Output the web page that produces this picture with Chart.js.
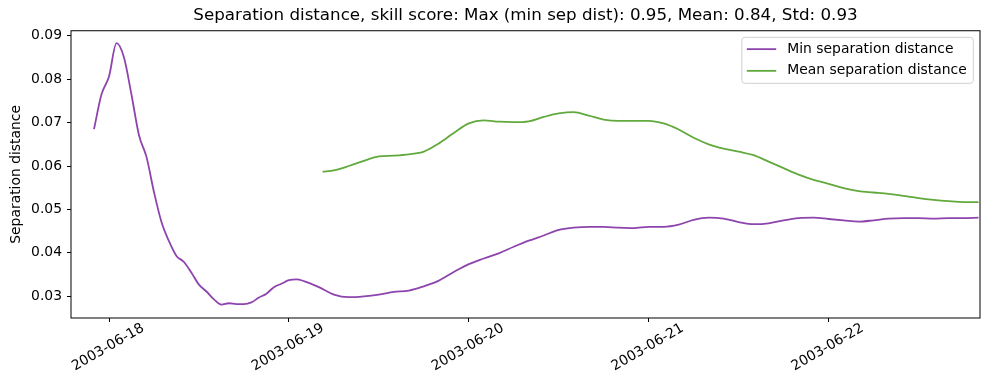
<!DOCTYPE html>
<html>
<head>
<meta charset="utf-8">
<script src="https://cdn.jsdelivr.net/npm/chart.js@4.4.1/dist/chart.umd.min.js"></script>
<style>body{margin:0;background:#fff}</style>
</head>
<body>
<canvas id="sep" width="989" height="390"></canvas>
<script>
// hours after 2003-06-18 00:00
var minHours = [-2,-1,0,1,2,3,4,5,6,7,8,9,10,11,12,13,14,15,16,17,18,19,20,21,22,23,24,25,26,
  28,30,32,34,36,38,40,42,44,46,48,50,52,54,56,58,60,62,64,66,68,70,72,74,76,78,80,82,84,86,88,
  90,92,94,96,98,100,102,104,106,108,110,112,114,116];
var minValues = [0.0685,0.0765,0.0806,0.0883,0.0850,0.0764,0.0671,0.0621,0.0540,0.0471,0.0427,0.0393,
  0.0379,0.0354,0.0327,0.0311,0.0293,0.0281,0.0284,0.0282,0.0282,0.0286,0.0297,0.0306,0.0321,0.0329,
  0.0337,0.0339,0.0335,
  0.0321,0.0304,0.0298,0.0300,0.0304,0.0310,0.0313,0.0323,0.0336,0.0356,0.0374,0.0387,0.0399,0.0414,
  0.0428,0.0440,0.0453,0.0458,0.0460,0.0460,0.0458,0.0457,0.0460,0.0460,0.0465,0.0476,0.0481,0.0479,
  0.0471,0.0466,0.0468,0.0475,0.0480,0.0481,0.0478,0.0475,0.0472,0.0475,0.0479,0.0480,0.0480,0.0479,
  0.0480,0.0480,0.0481];
var meanHours = [28.5,30,32,34,36,38,40,42,44,46,48,50,52,54,56,58,60,62,64,66,68,70,72,74,76,78,80,
  82,84,86,88,90,92,94,96,98,100,102,104,106,108,110,112,114,116];
var meanValues = [0.0587,0.0590,0.0600,0.0612,0.0622,0.0624,0.0627,0.0633,0.0652,0.0676,0.0698,0.0705,
  0.0702,0.0701,0.0703,0.0713,0.0721,0.0724,0.0716,0.0707,0.0704,0.0704,0.0704,0.0698,0.0684,0.0665,
  0.0650,0.0640,0.0633,0.0625,0.0610,0.0595,0.0580,0.0568,0.0559,0.0549,0.0542,0.0539,0.0536,0.0531,
  0.0526,0.0522,0.0519,0.0517,0.0517];
var tickHours = [0, 24, 48, 72, 96];
var tickLabels = ['2003-06-18', '2003-06-19', '2003-06-20', '2003-06-21', '2003-06-22'];
var yTicks = [0.03, 0.04, 0.05, 0.06, 0.07, 0.08, 0.09];

var FONT = 'DejaVu Sans';

function toPoints(xs, ys) {
  return xs.map(function (x, i) { return {x: x, y: ys[i]}; });
}

var frameAndLegend = {
  id: 'frameAndLegend',
  beforeDraw: function (chart) {
    // centre the title over the plot area, like matplotlib does
    if (chart.titleBlock) {
      chart.titleBlock.left = chart.chartArea.left;
      chart.titleBlock.right = chart.chartArea.right;
    }
  },
  afterDraw: function (chart) {
    var ctx = chart.ctx, a = chart.chartArea;
    ctx.save();
    ctx.strokeStyle = '#000';
    ctx.lineWidth = 1;
    ctx.strokeRect(a.left, a.top, a.right - a.left, a.bottom - a.top);

    ctx.font = '13.9px "' + FONT + '"';
    var sets = chart.data.datasets;
    var textW = 0;
    sets.forEach(function (d) { textW = Math.max(textW, ctx.measureText(d.label).width); });
    var right = a.right - 6.7, top = a.top + 6.6;
    var left = right - (6.6 + textW + 11 + 29.4 + 5);
    var h = 46, r = 3;
    ctx.beginPath();
    ctx.moveTo(left + r, top);
    ctx.arcTo(right, top, right, top + h, r);
    ctx.arcTo(right, top + h, left, top + h, r);
    ctx.arcTo(left, top + h, left, top, r);
    ctx.arcTo(left, top, right, top, r);
    ctx.closePath();
    ctx.fillStyle = 'rgba(255,255,255,0.8)';
    ctx.fill();
    ctx.strokeStyle = '#d0d0d0';
    ctx.stroke();

    sets.forEach(function (d, i) {
      var y = top + 11.8 + i * 21.7;
      ctx.strokeStyle = d.borderColor;
      ctx.lineWidth = 1.8;
      ctx.beginPath();
      ctx.moveTo(left + 5, y);
      ctx.lineTo(left + 34.4, y);
      ctx.stroke();
      ctx.fillStyle = '#000';
      ctx.textBaseline = 'middle';
      ctx.fillText(d.label, left + 45.4, y);
    });
    ctx.restore();
  }
};

new Chart(document.getElementById('sep'), {
  type: 'line',
  data: {
    datasets: [{
      label: 'Min separation distance',
      data: toPoints(minHours, minValues),
      borderColor: '#8e44ad',
      borderWidth: 1.8,
      pointRadius: 0,
      cubicInterpolationMode: 'monotone'
    }, {
      label: 'Mean separation distance',
      data: toPoints(meanHours, meanValues),
      borderColor: '#62a93d',
      borderWidth: 1.8,
      pointRadius: 0,
      cubicInterpolationMode: 'monotone'
    }]
  },
  options: {
    responsive: false,
    animation: false,
    layout: {padding: {left: 0, right: 9, top: 0, bottom: 0}},
    plugins: {
      legend: {display: false},
      tooltip: {enabled: false},
      title: {
        display: true,
        text: 'Separation distance, skill score: Max (min sep dist): 0.95, Mean: 0.84, Std: 0.93',
        color: '#000',
        font: {family: FONT, size: 16.7, weight: 'normal'},
        padding: {top: 5.5, bottom: 5.2}
      }
    },
    scales: {
      x: {
        type: 'linear',
        min: -5.07,
        max: 116.2,
        afterBuildTicks: function (s) { s.ticks = tickHours.map(function (v) { return {value: v}; }); },
        afterFit: function (s) { s.height = 72; },
        border: {display: false},
        grid: {drawOnChartArea: false, drawTicks: true, tickLength: 4, tickColor: '#000'},
        ticks: {
          autoSkip: false,
          minRotation: 30,
          maxRotation: 30,
          labelOffset: 34,
          padding: -2,
          color: '#000',
          font: {family: FONT, size: 13.9},
          callback: function (v, i) { return tickLabels[i]; }
        }
      },
      y: {
        min: 0.0250,
        max: 0.09115,
        afterBuildTicks: function (s) { s.ticks = yTicks.map(function (v) { return {value: v}; }); },
        afterFit: function (s) { s.width = 71; },
        border: {display: false},
        grid: {drawOnChartArea: false, drawTicks: true, tickLength: 4, tickColor: '#000'},
        ticks: {
          padding: 5,
          color: '#000',
          font: {family: FONT, size: 13.9},
          callback: function (v) { return v.toFixed(2); }
        },
        title: {
          display: true,
          text: 'Separation distance',
          color: '#000',
          font: {family: FONT, size: 13.9},
          padding: {top: 7.7, bottom: 0}
        }
      }
    }
  },
  plugins: [frameAndLegend]
});
</script>
</body>
</html>
